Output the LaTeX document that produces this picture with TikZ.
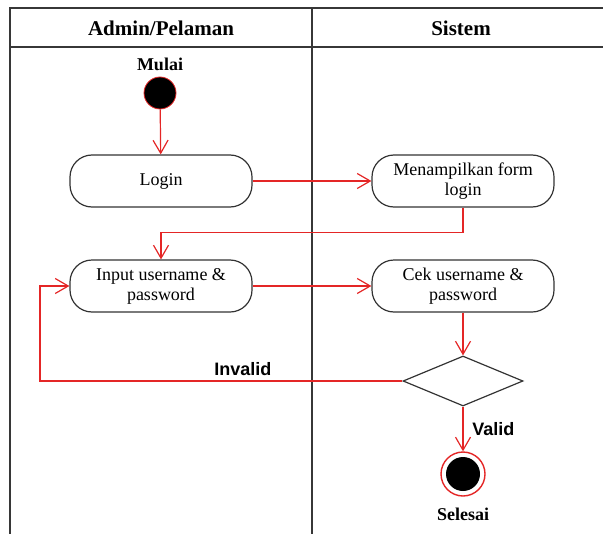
\documentclass[tikz,border=0pt]{standalone}
\usepackage{fontspec}
\setmainfont{Liberation Serif}
\newfontfamily\labelfont{Liberation Sans}
\usetikzlibrary{positioning, arrows.meta, shapes.geometric}
\definecolor{flowred}{RGB}{228,38,38}
\definecolor{lanegray}{RGB}{55,55,55}

\begin{document}
\begin{tikzpicture}[x=0.5pt, y=-0.5pt,
		lane/.style={draw=lanegray, line width=0.75pt},
		activity/.style={draw=black!80, rectangle, rounded corners=11pt, minimum width=91pt, minimum height=26pt, line width=0.6pt, align=center, font=\fontsize{9}{10}\selectfont},
		startnode/.style={draw=flowred, circle, fill=black, minimum size=16pt, inner sep=0pt, line width=0.4pt},
		endnode/.style={draw=flowred, circle, fill=white, minimum size=22pt, inner sep=0pt, line width=0.7pt,
			path picture={\fill[black] (path picture bounding box.center) circle (8.5pt);}},
		decision/.style={draw=black!80, diamond, minimum width=60pt, minimum height=25pt, inner sep=0pt, line width=0.6pt},
		flow/.style={draw=flowred, line width=0.6pt, -{Straight Barb[length=6.5pt, width=7.5pt]}},
		title/.style={font=\fontsize{10.5}{12}\selectfont\bfseries},
		tag/.style={font=\fontsize{9}{10}\selectfont\bfseries},
		guard/.style={font=\fontsize{9}{10}\selectfont\labelfont\bfseries}]
		\useasboundingbox (0,0) rectangle (603,534);

		% swimlanes
		\draw [lane] (603,8) -- (10,8) -- (10,534);
		\draw [lane] (10,47) -- (603,47);
		\draw [lane] (312,8) -- (312,534);
		\node[title] (lane1) at (161,28) {Admin/Pelaman};
		\node[title] (lane2) at (461,28) {Sistem};

		\node[tag] (mulai) at (160,64) {Mulai};
		\node[startnode] (start) at (160,93) {};
		\node[activity] (login) at (161,181) {Login};
		\node[activity] (form) at (463,181) {Menampilkan form\\login};
		\node[activity] (input) at (161,286) {Input username \&\\password};
		\node[activity] (cek) at (463,286) {Cek username \&\\password};
		\node[decision] (dec) at (463,381) {};
		\node[endnode] (end) at (463,474) {};
		\node[tag] (selesai) at (463,514) {Selesai};
		\coordinate (back) at (40,381);

		\draw [flow] (start) -- (login);
		\draw [flow] (login.east) -- (form.west);
		\draw [flow] (form.south) -- ++(0,25) -| (input.north);
		\draw [flow] (input.east) -- (cek.west);
		\draw [flow] (cek.south) -- (dec.north);
		\draw [flow] (dec.west) -- node [pos=0.44, above=-1pt, guard, text=black] {Invalid} (back) |- (input.west);
		\draw [flow] (dec.south) -- node [right=1pt, guard, text=black] {Valid} (end);
	\end{tikzpicture}
\end{document}
